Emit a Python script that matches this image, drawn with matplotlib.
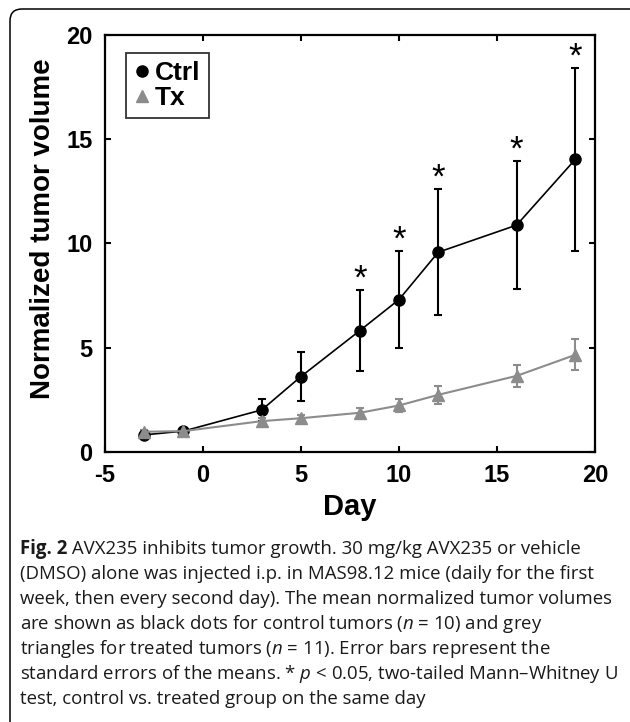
import numpy as np
import matplotlib
matplotlib.use("Agg")
from matplotlib import pyplot as plt
from matplotlib.lines import Line2D
from matplotlib.patches import FancyBboxPatch
from matplotlib.transforms import IdentityTransform

plt.rcParams['font.family'] = ['Liberation Sans', 'DejaVu Sans']
plt.rcParams['axes.unicode_minus'] = False
plt.rcParams['mathtext.fontset'] = 'custom'
plt.rcParams['mathtext.rm'] = 'Open Sans'
plt.rcParams['mathtext.it'] = 'Open Sans:italic'
plt.rcParams['mathtext.bf'] = 'Open Sans:bold'

# data
days = [-3, -1, 3, 5, 8, 10, 12, 16, 19]
ctrl_mean = [0.82, 1.0, 2.02, 3.62, 5.82, 7.31, 9.58, 10.88, 14.04]
ctrl_sem = [0.08, 0.08, 0.52, 1.17, 1.94, 2.34, 3.03, 3.08, 4.40]
tx_mean = [0.97, 1.0, 1.48, 1.62, 1.88, 2.23, 2.74, 3.65, 4.66]
tx_sem = [0.08, 0.08, 0.14, 0.15, 0.24, 0.30, 0.43, 0.52, 0.74]
sig_days = [8, 10, 12, 16, 19]

fig_label = "Fig. 2"
caption = [
    " AVX235 inhibits tumor growth. 30 mg/kg AVX235 or vehicle",
    "(DMSO) alone was injected i.p. in MAS98.12 mice (daily for the first",
    "week, then every second day). The mean normalized tumor volumes",
    r"are shown as black dots for control tumors ($n$ = 10) and grey",
    r"triangles for treated tumors ($n$ = 11). Error bars represent the",
    r"standard errors of the means. * $p$ < 0.05, two-tailed Mann–Whitney U",
    "test, control vs. treated group on the same day",
]

grey = '#8c8c8c'

fig = plt.figure(figsize=(6.3, 7.22), dpi=100)
ax = fig.add_axes([0.1667, 0.374, 0.7777, 0.5775])

ax.errorbar(days, ctrl_mean, yerr=ctrl_sem, fmt='-o', color='black', ms=8,
            lw=1.2, elinewidth=1.5, capsize=3, capthick=1.5)
ax.errorbar(days, tx_mean, yerr=tx_sem, fmt='-^', color=grey, ms=9,
            lw=1.5, elinewidth=1.5, capsize=3, capthick=1.5)

for d in sig_days:
    i = days.index(d)
    ax.annotate('*', (d, ctrl_mean[i] + ctrl_sem[i]), xytext=(0, 1),
                textcoords='offset points', ha='center', va='baseline',
                fontsize=25)

ax.set_xlim(-5, 20)
ax.set_ylim(0, 20)
ax.set_xticks([-5, 0, 5, 10, 15, 20])
ax.set_yticks([0, 5, 10, 15, 20])
ax.tick_params(direction='in', top=True, right=True, length=4, width=1.5,
               labelsize=17, pad=9)
for lbl in ax.get_xticklabels() + ax.get_yticklabels():
    lbl.set_fontweight('bold')
for s in ax.spines.values():
    s.set_linewidth(1.6)

ax.set_xlabel('Day', fontsize=21, fontweight='bold', labelpad=4)
ax.set_ylabel('Normalized tumor volume', fontsize=20, fontweight='bold')
ax.yaxis.set_label_coords(-0.10, 0.535)

handles = [Line2D([], [], ls='none', marker='o', color='black', ms=8),
           Line2D([], [], ls='none', marker='^', color=grey, ms=9)]
leg = ax.legend(handles, ['Ctrl', 'Tx'], loc='upper left',
                bbox_to_anchor=(0.043, 0.957), borderaxespad=0,
                fancybox=False, handlelength=0.6, handletextpad=0.2,
                borderpad=0.3, labelspacing=0.05,
                prop={'weight': 'bold', 'size': 19})
leg.get_frame().set_edgecolor('black')
leg.get_frame().set_linewidth(1.3)

# rounded frame round the whole figure (cut off right and bottom)
box = FancyBboxPatch((10, -20), 640, 733,
                     boxstyle='round,pad=0,rounding_size=12',
                     fill=False, ec='black', lw=1.1,
                     transform=IdentityTransform())
fig.add_artist(box)

cap_kw = dict(transform=IdentityTransform(), family='Open Sans',
              fontsize=13.4, color='#1a1a1a', va='baseline', ha='left')
x0, y0 = 20, 722 - 554
t = fig.text(x0, y0, fig_label, fontweight='bold', **cap_kw)
r = fig.canvas.get_renderer()
w = t.get_window_extent(r).width
for k, line in enumerate(caption):
    x = x0 + w if k == 0 else x0
    fig.text(x, y0 - 25 * k, line, **cap_kw)

fig.savefig('out.png', dpi=100)
